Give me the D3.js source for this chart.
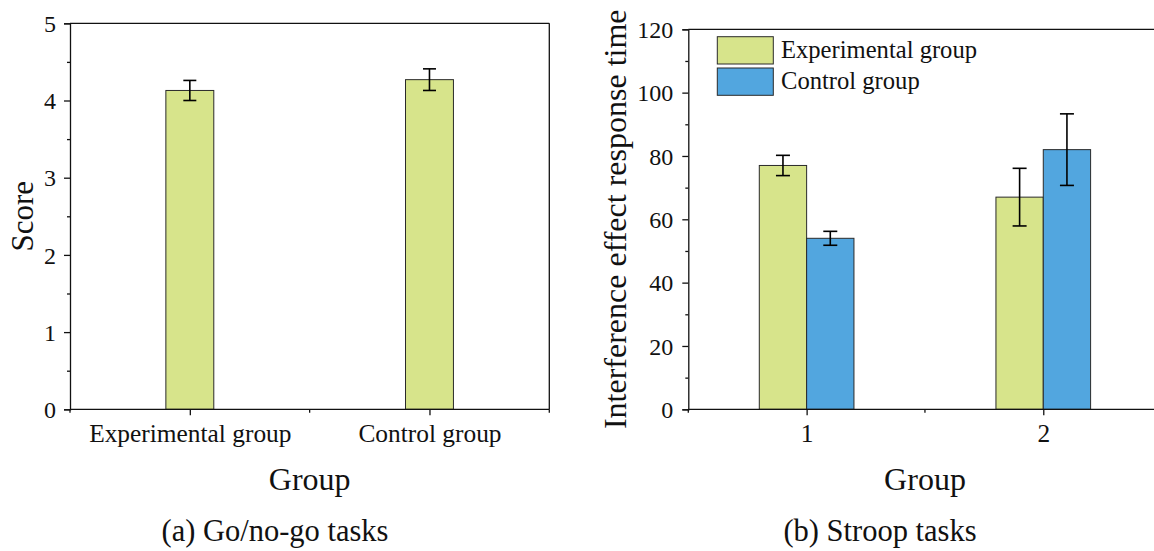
<!DOCTYPE html>
<html><head><meta charset="utf-8">
<script src="https://cdn.jsdelivr.net/npm/d3@7"></script>
<style>
body{margin:0;background:#fff;}
svg{display:block;}
text{font-family:"Liberation Serif","Times New Roman",serif;fill:#111;}
</style></head>
<body><svg id="c" width="1154" height="551"></svg>
<script>
// Panel (a) Go/no-go
const goCategories = ["Experimental group", "Control group"];
const goScores = [4.13, 4.27];
const goErrors = [0.13, 0.14];
const goTicks = [0, 1, 2, 3, 4, 5];

// Panel (b) Stroop
const stroopCategories = ["1", "2"];
const stroopSeries = ["Experimental group", "Control group"];
const stroopExperimental = [77, 67];
const stroopExperimentalErr = [3.2, 9.1];
const stroopControl = [54, 82];
const stroopControlErr = [2.2, 11.3];
const stroopTicks = [0, 20, 40, 60, 80, 100, 120];

const GREEN = "#d7e48b", BLUE = "#52a6df", EDGE = "#2a2a2a";
const FONT = '"Liberation Serif", "Times New Roman", serif';
const svg = d3.select("#c");

function axisStyle(g){
  g.attr("font-family", null).attr("font-size", null);
  g.selectAll("path.domain").attr("stroke","#111").attr("stroke-width",1.3);
  g.selectAll(".tick line").attr("stroke","#111").attr("stroke-width",1.3);
}
function tickText(sel, size){
  sel.style("font-family", FONT).style("font-size", size + "px").style("fill", "#111");
}

// ---------- Panel A ----------
{
  const x0 = 70, x1 = 549.3, yb = 409.3, yt = 23.3;
  const x = d3.scalePoint().domain(goCategories).range([x0, x1]).padding(0.5);
  const step = x.step();
  const y = d3.scaleLinear().domain([0,5]).range([yb, yt]);
  const bw = step * 0.2;
  const g = svg.append("g");

  g.append("line").attr("x1",x0).attr("x2",x1).attr("y1",yt).attr("y2",yt).attr("stroke","#111").attr("stroke-width",1.3);
  g.append("line").attr("x1",x1).attr("x2",x1).attr("y1",yt).attr("y2",yb).attr("stroke","#111").attr("stroke-width",1.3);

  g.selectAll("rect.bar").data(goCategories).join("rect")
    .attr("x", d => x(d) - bw/2).attr("width", bw)
    .attr("y", (d,i) => y(goScores[i])).attr("height", (d,i) => yb - y(goScores[i]))
    .attr("fill", GREEN).attr("stroke", EDGE).attr("stroke-width", 1);

  goCategories.forEach((c,i) => {
    const cx = x(c), hi = y(goScores[i]+goErrors[i]), lo = y(goScores[i]-goErrors[i]);
    g.append("line").attr("x1",cx).attr("x2",cx).attr("y1",hi).attr("y2",lo).attr("stroke","#000").attr("stroke-width",1.6);
    [hi,lo].forEach(v => g.append("line").attr("x1",cx-6.5).attr("x2",cx+6.5).attr("y1",v).attr("y2",v).attr("stroke","#000").attr("stroke-width",1.6));
  });

  const yMinor = g.append("g").attr("transform",`translate(${x0},0)`)
    .call(d3.axisLeft(y).tickValues(d3.range(0.5,5,1)).tickSize(3).tickFormat(""));
  axisStyle(yMinor); yMinor.select("path.domain").remove();
  const yAx = g.append("g").attr("transform",`translate(${x0},0)`)
    .call(d3.axisLeft(y).tickValues(goTicks).tickSize(6).tickPadding(8).tickFormat(d3.format("d")));
  axisStyle(yAx);
  tickText(yAx.selectAll(".tick text").attr("dy","0.34em"), 24);

  const xAx = g.append("g").attr("transform",`translate(0,${yb})`)
    .call(d3.axisBottom(x).tickSize(6).tickPadding(0));
  xAx.select("path.domain").attr("d",`M${x0},0H${x1}`);
  axisStyle(xAx);
  tickText(xAx.selectAll(".tick text").attr("y",33).attr("dy",0), 25.4);
  const minorX = [x0, (x(goCategories[0])+x(goCategories[1]))/2, x1];
  g.selectAll("line.mx").data(minorX).join("line").attr("class","mx")
    .attr("x1",d=>d).attr("x2",d=>d).attr("y1",yb).attr("y2",yb+3.5).attr("stroke","#111").attr("stroke-width",1.3);

  g.append("text").attr("x",(x0+x1)/2).attr("y",490).attr("text-anchor","middle").attr("font-size",32).text("Group");
  g.append("text").attr("transform",`translate(33,${(yt+yb)/2}) rotate(-90)`).attr("text-anchor","middle").attr("font-size",31).text("Score");
  g.append("text").attr("x",275).attr("y",541).attr("text-anchor","middle").attr("font-size",30.5).text("(a) Go/no-go tasks");
}

// ---------- Panel B ----------
{
  const x0 = 688.3, x1 = 1161.6, yb = 409.3, yt = 29.3;
  const x = d3.scalePoint().domain(stroopCategories).range([x0, x1]).padding(0.5);
  const step = x.step();
  const y = d3.scaleLinear().domain([0,120]).range([yb, yt]);
  const bw = step * 0.2;
  const g = svg.append("g");

  g.append("line").attr("x1",x0).attr("x2",x1).attr("y1",yt).attr("y2",yt).attr("stroke","#111").attr("stroke-width",1.3);

  const series = [
    {name: stroopSeries[0], vals: stroopExperimental, errs: stroopExperimentalErr, color: GREEN, off: -1},
    {name: stroopSeries[1], vals: stroopControl, errs: stroopControlErr, color: BLUE, off: 0}
  ];
  series.forEach(s => {
    g.selectAll(null).data(stroopCategories).join("rect")
      .attr("x", d => x(d) + s.off*bw).attr("width", bw)
      .attr("y", (d,i) => y(s.vals[i])).attr("height", (d,i) => yb - y(s.vals[i]))
      .attr("fill", s.color).attr("stroke", EDGE).attr("stroke-width", 1);
  });
  series.forEach(s => {
    stroopCategories.forEach((c,i) => {
      const cx = x(c) + s.off*bw + bw/2;
      const hi = y(s.vals[i]+s.errs[i]), lo = y(s.vals[i]-s.errs[i]);
      g.append("line").attr("x1",cx).attr("x2",cx).attr("y1",hi).attr("y2",lo).attr("stroke","#000").attr("stroke-width",1.6);
      [hi,lo].forEach(v => g.append("line").attr("x1",cx-7).attr("x2",cx+7).attr("y1",v).attr("y2",v).attr("stroke","#000").attr("stroke-width",1.6));
    });
  });

  const yMinor = g.append("g").attr("transform",`translate(${x0},0)`)
    .call(d3.axisLeft(y).tickValues(d3.range(10,120,20)).tickSize(3).tickFormat(""));
  axisStyle(yMinor); yMinor.select("path.domain").remove();
  const yAx = g.append("g").attr("transform",`translate(${x0},0)`)
    .call(d3.axisLeft(y).tickValues(stroopTicks).tickSize(6).tickPadding(9).tickFormat(d3.format("d")));
  axisStyle(yAx);
  tickText(yAx.selectAll(".tick text").attr("dy","0.34em"), 24);

  const xAx = g.append("g").attr("transform",`translate(0,${yb})`)
    .call(d3.axisBottom(x).tickSize(6).tickPadding(0));
  xAx.select("path.domain").attr("d",`M${x0},0H${x1}`);
  axisStyle(xAx);
  tickText(xAx.selectAll(".tick text").attr("y",33).attr("dy",0), 25.4);
  const minorX = [x0, (x(stroopCategories[0])+x(stroopCategories[1]))/2, x1];
  g.selectAll("line.mx").data(minorX).join("line").attr("class","mx")
    .attr("x1",d=>d).attr("x2",d=>d).attr("y1",yb).attr("y2",yb+3.5).attr("stroke","#111").attr("stroke-width",1.3);

  const lg = g.append("g");
  series.forEach((s,i) => {
    lg.append("rect").attr("x",717.3).attr("y",36.7 + i*31.3).attr("width",56).attr("height",27.3)
      .attr("fill",s.color).attr("stroke",EDGE).attr("stroke-width",1);
    lg.append("text").attr("x",781).attr("y",58 + i*30.5).attr("font-size",24.6).text(s.name);
  });

  g.append("text").attr("x",925).attr("y",490).attr("text-anchor","middle").attr("font-size",32).text("Group");
  g.append("text").attr("transform",`translate(626,${(yt+yb)/2}) rotate(-90)`).attr("text-anchor","middle").attr("font-size",32).text("Interference effect response time");
  g.append("text").attr("x",880).attr("y",541).attr("text-anchor","middle").attr("font-size",30.5).text("(b) Stroop tasks");
}
</script></body></html>
